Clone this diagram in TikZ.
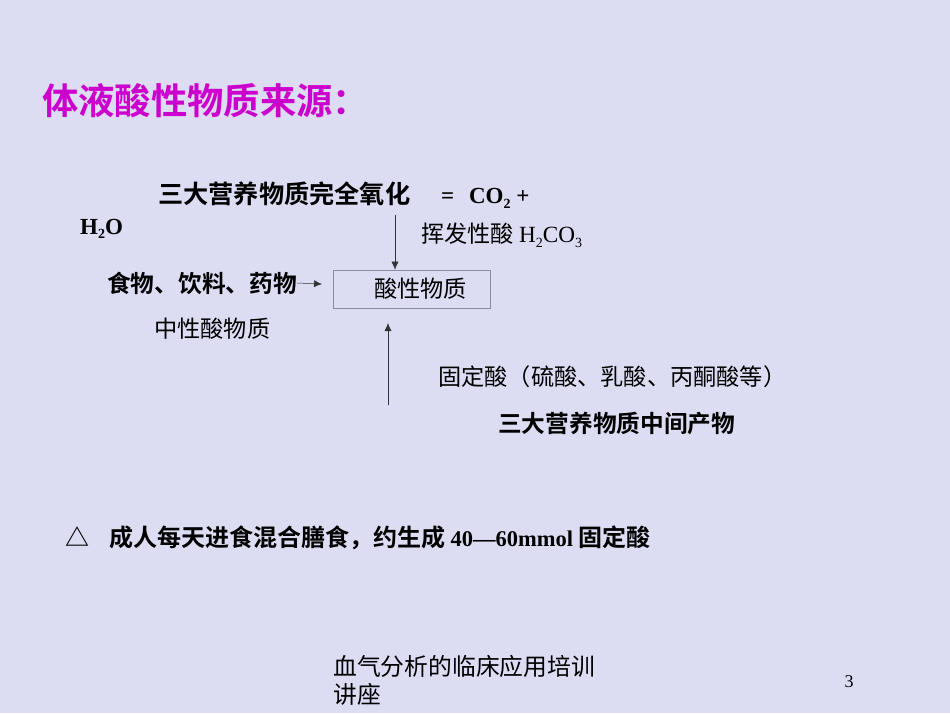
\documentclass[tikz,border=0pt]{standalone}
\usepackage{fontspec}
\setmainfont{Liberation Serif}
\newfontfamily\cjk{Noto Sans CJK SC}
\newfontfamily\cjkb{Noto Sans CJK SC Bold}
\usetikzlibrary{arrows.meta}
\definecolor{slidebg}{RGB}{220,221,243}
\definecolor{titlemag}{RGB}{204,0,204}
\definecolor{boxline}{RGB}{140,140,160}
\def\lsub#1{\raisebox{-0.45ex}{\fontsize{14}{14}\selectfont #1}}
\tikzset{
	plain/.style={anchor=west, inner sep=0pt, font=\fontsize{23.2}{25}\selectfont\cjk},
	heavy/.style={anchor=west, inner sep=0pt, font=\fontsize{23.7}{25}\selectfont\cjkb},
	tip/.style={-{Latex[length=8pt,width=7pt]}, line width=0.5pt, color=black!80}
}
\begin{document}
\begin{tikzpicture}[x=1pt, y=-1pt]
			%%%%% START %%%%%
			
			\fill[slidebg] (0, 0) rectangle (950, 713);
			\useasboundingbox (0, 0) rectangle (950, 713);
			
			\node[anchor=west, inner sep=0pt, text=titlemag, font=\fontsize{36.3}{38}\selectfont\cjkb] (title) at (42, 101) {体液酸性物质来源：};
			
			\node[heavy, font=\fontsize{25.2}{27}\selectfont\cjkb] (oxid) at (158, 195) {三大营养物质完全氧化\hspace{31pt}{\rmfamily\bfseries\fontsize{23}{25}\selectfont = \hspace{9pt}CO\lsub{2} +}};
			\node[anchor=west, inner sep=0pt, font=\fontsize{23}{25}\selectfont\bfseries] (water) at (80, 229) {H\lsub{2}O};
			
			\node[plain] (volatile) at (421, 235) {挥发性酸 {\rmfamily H\lsub{2}CO\lsub{3}}};
			
			\node[draw=boxline, line width=0.6pt, minimum width=157pt, minimum height=38pt, inner sep=0pt] (acid) at (411.5, 289) {};
			\node[plain] (acidtext) at (374, 289) {酸性物质};
			
			\node[heavy] (food) at (107, 283) {食物、饮料、药物};
			\node[plain] (neutral) at (154, 329) {中性酸物质};
			
			\node[plain] (fixed) at (438, 377) {固定酸（硫酸、乳酸、丙酮酸等）};
			\node[heavy] (middle) at (498, 424) {三大营养物质中间产物};
			
			\node[anchor=west, inner sep=0pt, font=\fontsize{24}{26}\selectfont\cjkb] (note) at (65, 538) {△\hspace{20pt}成人每天进食混合膳食，约生成 {\rmfamily\bfseries\fontsize{22.5}{25}\selectfont 40—60mmol} 固定酸};
			
			\coordinate (vtop) at (395, 215);
			\coordinate (foodtip) at (322, 284);
			\coordinate (fbot) at (388, 405);
			\coordinate (ftip) at (388, 323);
			
			\draw[tip] (vtop) -- (vtop |- acid.north);
			\draw[tip] (food.east) -- (foodtip);
			\draw[tip] (fbot) -- (ftip);
			
			\node[anchor=north west, inner sep=0pt, align=left, font=\fontsize{23.8}{28}\selectfont\cjk] (footer) at (333, 655) {血气分析的临床应用培训\\讲座};
			\node[inner sep=0pt, font=\fontsize{18}{20}\selectfont] (page) at (849, 682) {3};
			
			%%%%% END %%%%%
		\end{tikzpicture}
\end{document}
